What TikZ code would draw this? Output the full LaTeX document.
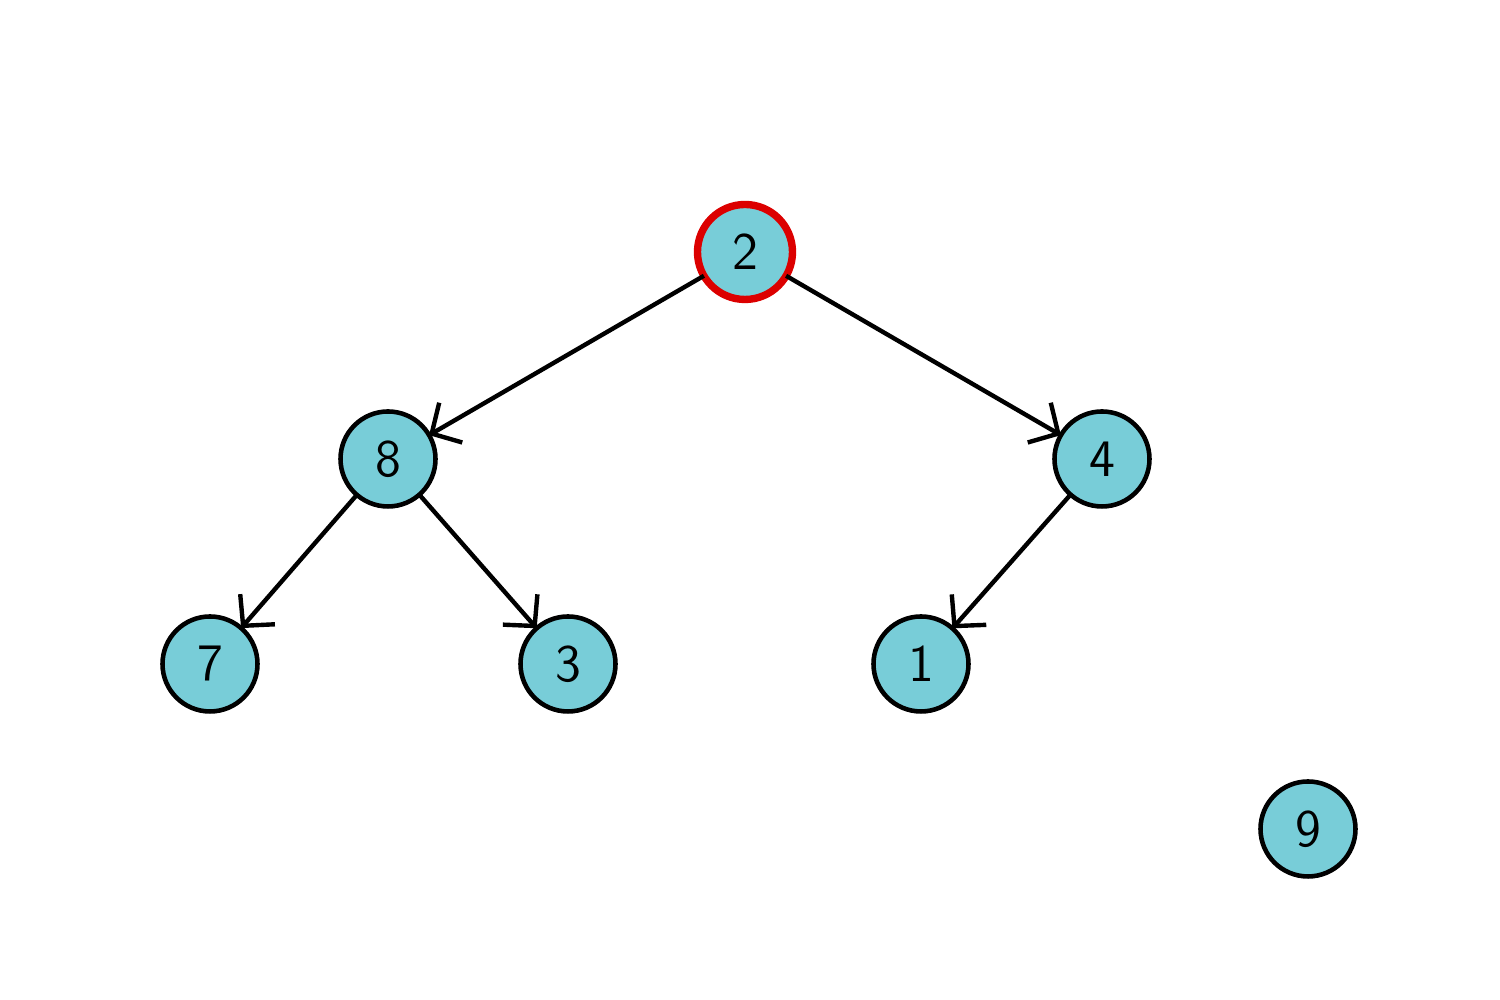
\documentclass[tikz,border=0pt]{standalone}
\usepackage{tikz}
\usetikzlibrary{arrows.meta}
\definecolor{nodeTeal}{RGB}{120,205,216}
\definecolor{rootRed}{RGB}{220,0,0}
\tikzstyle{edge}=[-{Straight Barb[length=2.2mm, width=4.6mm, line width=1.25pt]}, line width=1.25pt]
\tikzstyle{tealV}=[circle, fill=nodeTeal, draw, minimum size=0.95cm, line width=1.3pt, inner sep=0pt, outer sep=0pt, font=\sffamily\fontsize{15}{18}\selectfont]
\tikzstyle{rootV}=[tealV, draw=rootRed, line width=2.1pt]

\begin{document}
\begin{tikzpicture}
      \useasboundingbox (0,0) rectangle (15,10);
      %%%%%%%%%%%% nodes
      \node(2) [rootV] at (7.45, 7.48){2};
      \node(8) [tealV] at (3.88, 5.41){8};
      \node(4) [tealV] at (11.02, 5.41){4};
      \node(7) [tealV] at (2.10, 3.36){7};
      \node(3) [tealV] at (5.68, 3.36){3};
      \node(1) [tealV] at (9.21, 3.36){1};
      \node(9) [tealV] at (13.08, 1.71){9};
      %%%%%%%%%%%% edges
      \draw[edge] (2) to (8);
      \draw[edge] (2) to (4);
      \draw[edge] (8) to (7);
      \draw[edge] (8) to (3);
      \draw[edge] (4) to (1);
\end{tikzpicture}
\end{document}
